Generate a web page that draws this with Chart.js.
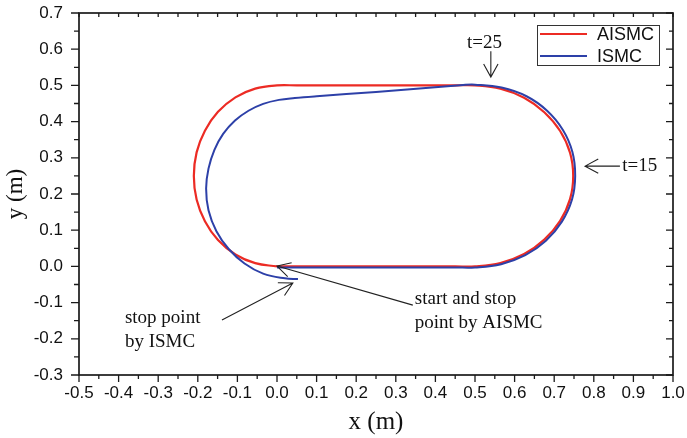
<!DOCTYPE html>
<html>
<head>
<meta charset="utf-8">
<script src="https://cdn.jsdelivr.net/npm/chart.js@4.4.1/dist/chart.umd.min.js"></script>
<style>
  html, body { margin: 0; padding: 0; background: #fff; }
</style>
</head>
<body>
<canvas id="trackChart" width="687" height="438"></canvas>
<script>
// tick labels
const xTicks = [-0.5, -0.4, -0.3, -0.2, -0.1, 0.0, 0.1, 0.2, 0.3, 0.4, 0.5, 0.6, 0.7, 0.8, 0.9, 1.0];
const yTicks = [-0.3, -0.2, -0.1, 0.0, 0.1, 0.2, 0.3, 0.4, 0.5, 0.6, 0.7];

const seriesNames = ['AISMC', 'ISMC'];

// AISMC path
const aismcX = [0, 0.05, 0.25, 0.45, 0.5, 0.564, 0.624, 0.675, 0.715, 0.740, 0.748, 0.740, 0.715, 0.675,
  0.624, 0.564, 0.5, 0.45, 0.25, 0.05, 0, -0.055, -0.105, -0.149, -0.182, -0.203, -0.21, -0.203,
  -0.182, -0.149, -0.105, -0.055, 0];
const aismcY = [0, 0, 0, 0, 0, 0.009, 0.034, 0.074, 0.126, 0.186, 0.25, 0.314, 0.374, 0.426,
  0.466, 0.491, 0.5, 0.5, 0.5, 0.5, 0.5, 0.491, 0.467, 0.427, 0.375, 0.315, 0.25, 0.185,
  0.125, 0.073, 0.033, 0.009, 0];

// ISMC path
const ismcX = [0, 0.05, 0.25, 0.45, 0.5, 0.566, 0.627, 0.679, 0.719, 0.745, 0.753, 0.746, 0.722, 0.682,
  0.630, 0.567, 0.5, 0.47, 0.25, 0.1, 0.045, 0.005, -0.035, -0.072, -0.106, -0.136, -0.158, -0.173, -0.179,
  -0.173, -0.153, -0.122, -0.082, -0.035, 0.02, 0.053];
const ismcY = [-0.003, -0.003, -0.003, -0.003, -0.003, 0.006, 0.031, 0.071, 0.123, 0.185, 0.25, 0.316, 0.377, 0.430,
  0.470, 0.494, 0.502, 0.501, 0.482, 0.47, 0.465, 0.46, 0.449, 0.43, 0.403, 0.366, 0.322, 0.27, 0.215,
  0.155, 0.097, 0.048, 0.008, -0.02, -0.033, -0.035];

const colors = ['#ec2b24', '#2d40a8'];

function toPoints(xs, ys) {
  return xs.map((v, i) => ({ x: v, y: ys[i] }));
}

// annotations, in data units
const notes = [
  { lines: ['t=25'], x: 0.48, y: 0.603, arrow: [0.54, 0.594, 0.54, 0.523] },
  { lines: ['t=15'], x: 0.872, y: 0.264, arrow: [0.866, 0.277, 0.778, 0.277] },
  { lines: ['start and stop', 'point by AISMC'], x: 0.348, y: -0.104, arrow: [0.343, -0.107, 0.0, 0.001] },
  { lines: ['stop point', 'by ISMC'], x: -0.384, y: -0.156, arrow: [-0.139, -0.148, 0.04, -0.046] }
];

function drawArrow(ctx, x1, y1, x2, y2) {
  const ang = Math.atan2(y2 - y1, x2 - x1);
  const head = 15, spread = 0.5;
  ctx.beginPath();
  ctx.moveTo(x1, y1);
  ctx.lineTo(x2, y2);
  ctx.moveTo(x2 - head * Math.cos(ang - spread), y2 - head * Math.sin(ang - spread));
  ctx.lineTo(x2, y2);
  ctx.lineTo(x2 - head * Math.cos(ang + spread), y2 - head * Math.sin(ang + spread));
  ctx.stroke();
}

const framePlugin = {
  id: 'framePlugin',
  afterDatasetsDraw(chart) {
    const { ctx, chartArea: a, scales: { x, y } } = chart;
    ctx.save();

    // box
    ctx.strokeStyle = '#1a1a1a';
    ctx.lineWidth = 1.7;
    ctx.strokeRect(a.left, a.top, a.right - a.left, a.bottom - a.top);

    // major + minor ticks
    ctx.lineWidth = 1.3;
    ctx.beginPath();
    for (let i = 0; i <= 30; i++) {
      const px = x.getPixelForValue(-0.5 + i * 0.05);
      const major = i % 2 === 0;
      ctx.moveTo(px, a.bottom); ctx.lineTo(px, a.bottom + (major ? 7 : 4));
      ctx.moveTo(px, a.top); ctx.lineTo(px, a.top + 4);
    }
    for (let i = 0; i <= 20; i++) {
      const py = y.getPixelForValue(-0.3 + i * 0.05);
      const major = i % 2 === 0;
      ctx.moveTo(a.left, py); ctx.lineTo(a.left - (major ? 8 : 5), py);
      ctx.moveTo(a.right, py); ctx.lineTo(a.right - (major ? 7 : 4), py);
    }
    ctx.stroke();

    // legend box
    const bx = a.right - 136, by = a.top + 12, bw = 122, bh = 40;
    ctx.fillStyle = '#fff';
    ctx.fillRect(bx, by, bw, bh);
    ctx.strokeStyle = '#333';
    ctx.lineWidth = 1;
    ctx.strokeRect(bx + 0.5, by + 0.5, bw, bh);
    ctx.font = '18px "Liberation Sans", Arial, sans-serif';
    ctx.textBaseline = 'middle';
    ctx.textAlign = 'left';
    seriesNames.forEach((name, i) => {
      const ly = by + 9 + i * 22;
      ctx.strokeStyle = colors[i];
      ctx.lineWidth = 2;
      ctx.beginPath();
      ctx.moveTo(bx + 3, ly); ctx.lineTo(bx + 50, ly);
      ctx.stroke();
      ctx.fillStyle = '#111';
      ctx.fillText(name, bx + 60, ly + 1);
    });

    // annotations
    ctx.strokeStyle = '#222';
    ctx.fillStyle = '#111';
    ctx.lineWidth = 1.1;
    ctx.font = '19px "Liberation Serif", "Times New Roman", serif';
    ctx.textBaseline = 'alphabetic';
    notes.forEach(n => {
      const tx = x.getPixelForValue(n.x), ty = y.getPixelForValue(n.y);
      n.lines.forEach((t, k) => ctx.fillText(t, tx, ty + k * 24));
      const [x1, y1, x2, y2] = n.arrow;
      drawArrow(ctx, x.getPixelForValue(x1), y.getPixelForValue(y1),
        x.getPixelForValue(x2), y.getPixelForValue(y2));
    });

    ctx.restore();
  }
};

const tickFont = { family: '"Liberation Sans", Arial, sans-serif', size: 17 };
const fmt = v => (Math.abs(v) < 1e-9 ? 0 : v).toFixed(1);

new Chart(document.getElementById('trackChart'), {
  type: 'scatter',
  data: {
    datasets: [
      {
        label: seriesNames[0],
        data: toPoints(aismcX, aismcY),
        showLine: true,
        borderColor: colors[0],
        borderWidth: 2.2,
        pointRadius: 0,
        tension: 0.4,
        order: 1
      },
      {
        label: seriesNames[1],
        data: toPoints(ismcX, ismcY),
        showLine: true,
        borderColor: colors[1],
        borderWidth: 2,
        pointRadius: 0,
        tension: 0.4,
        order: 0
      }
    ]
  },
  options: {
    responsive: false,
    animation: false,
    layout: { padding: 0 },
    plugins: { legend: { display: false }, tooltip: { enabled: false } },
    scales: {
      x: {
        type: 'linear',
        min: -0.5, max: 1.0,
        afterBuildTicks: s => { s.ticks = xTicks.map(v => ({ value: v })); },
        afterFit: s => { s.height = 63; s.paddingRight = 14; s.paddingLeft = 0; },
        grid: { display: false, drawTicks: false },
        border: { display: false },
        ticks: { font: tickFont, color: '#111', padding: 8, maxRotation: 0, callback: v => fmt(v) },
        title: {
          display: true, text: 'x (m)', color: '#111',
          font: { family: '"Liberation Serif", "Times New Roman", serif', size: 25 },
          padding: { top: 0, bottom: 1 }
        }
      },
      y: {
        type: 'linear',
        min: -0.3, max: 0.7,
        afterBuildTicks: s => { s.ticks = yTicks.map(v => ({ value: v })); },
        afterFit: s => { s.width = 79; s.paddingTop = 13; s.paddingBottom = 0; },
        grid: { display: false, drawTicks: false },
        border: { display: false },
        ticks: { font: tickFont, color: '#111', padding: 16, callback: v => fmt(v) },
        title: {
          display: true, text: 'y (m)', color: '#111',
          font: { family: '"Liberation Serif", "Times New Roman", serif', size: 23 },
          padding: { top: 2, bottom: 0 }
        }
      }
    }
  },
  plugins: [framePlugin]
});
</script>
</body>
</html>
